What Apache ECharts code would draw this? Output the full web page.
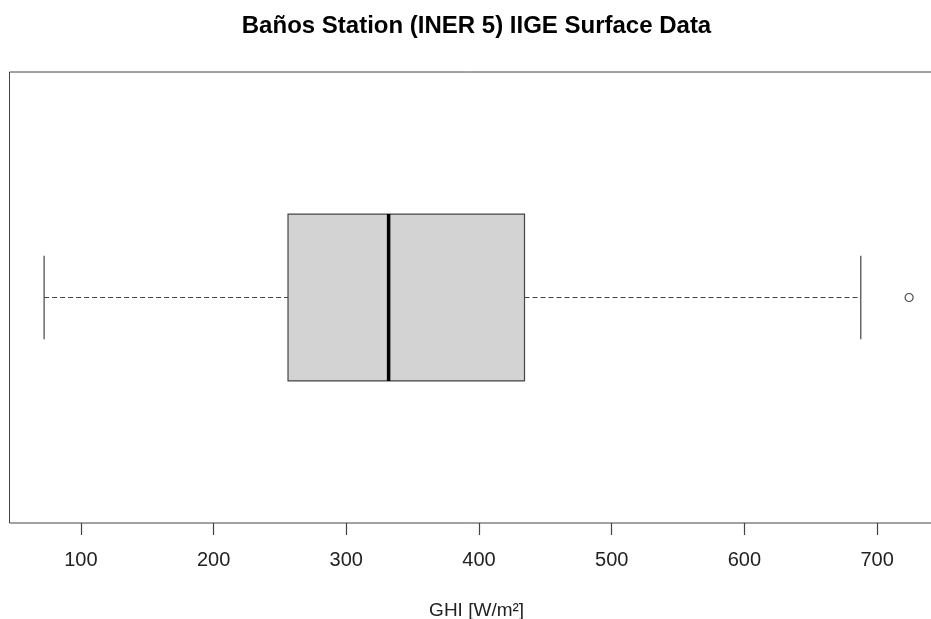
<!DOCTYPE html>
<html>
<head>
<meta charset="utf-8">
<title>Baños Station (INER 5) IIGE Surface Data</title>
<script src="https://cdn.jsdelivr.net/npm/echarts@6/dist/echarts.min.js"></script>
<style>
  html, body { margin: 0; padding: 0; background: #ffffff; }
  #chart { width: 931px; height: 619px; }
</style>
</head>
<body>
<div id="chart"></div>
<script>
// Five-number summary of GHI [W/m²]: lower whisker, Q1, median, Q3, upper whisker
const boxStats = [72.3, 256.1, 331.9, 434.3, 687.7];
// Points beyond the upper whisker
const outliers = [724.1];
// Labelled ticks along the GHI axis
const tickValues = [100, 200, 300, 400, 500, 600, 700];

const chartTitle = 'Baños Station (INER 5) IIGE Surface Data';
const axisTitle = 'GHI [W/m²]';

// Axis range: data range padded by 4% on each side
const span = outliers[0] - boxStats[0];
const xMin = boxStats[0] - span * 0.04;
const xMax = outliers[0] + span * 0.04;

const yCenter = 0.5;
const boxHalf = 0.185;
const capHalf = boxHalf / 2;
const lineColor = '#444444';

const chart = echarts.init(document.getElementById('chart'), null, { renderer: 'canvas' });

function renderBox(params, api) {
  const lo = api.value(0), q1 = api.value(1), med = api.value(2), q3 = api.value(3), hi = api.value(4);
  const p = (x, y) => api.coord([x, y]);
  const c = p(lo, yCenter)[1];
  const top = p(q1, yCenter + boxHalf)[1];
  const bot = p(q1, yCenter - boxHalf)[1];
  const capTop = p(lo, yCenter + capHalf)[1];
  const capBot = p(lo, yCenter - capHalf)[1];
  const xLo = p(lo, yCenter)[0], xQ1 = p(q1, yCenter)[0], xMed = p(med, yCenter)[0];
  const xQ3 = p(q3, yCenter)[0], xHi = p(hi, yCenter)[0];
  const dashed = { stroke: lineColor, lineWidth: 1, lineDash: [5, 3] };
  const solid = { stroke: lineColor, lineWidth: 1.2 };
  return {
    type: 'group',
    children: [
      { type: 'line', shape: { x1: xLo, y1: c, x2: xQ1, y2: c }, style: dashed },
      { type: 'line', shape: { x1: xQ3, y1: c, x2: xHi, y2: c }, style: dashed },
      { type: 'line', shape: { x1: xLo, y1: capTop, x2: xLo, y2: capBot }, style: solid },
      { type: 'line', shape: { x1: xHi, y1: capTop, x2: xHi, y2: capBot }, style: solid },
      { type: 'rect', shape: { x: xQ1, y: top, width: xQ3 - xQ1, height: bot - top },
        style: { fill: '#d3d3d3', stroke: lineColor, lineWidth: 1.2 } },
      { type: 'line', shape: { x1: xMed, y1: top, x2: xMed, y2: bot },
        style: { stroke: '#000000', lineWidth: 3.5 } }
    ]
  };
}

const option = {
  backgroundColor: '#ffffff',
  animation: false,
  textStyle: { fontFamily: 'Liberation Sans, Arial, sans-serif' },
  graphic: [
    {
      type: 'text', x: 476.5, y: 26.5,
      style: {
        text: chartTitle, x: 0, y: 0, align: 'center', verticalAlign: 'middle',
        font: 'bold 24px "Liberation Sans", Arial, sans-serif', fill: '#000000'
      }
    }
  ],
  grid: {
    left: 9.5, top: 72, width: 934.2, height: 451,
    outerBoundsMode: 'none', containLabel: false,
    show: true, borderColor: lineColor, borderWidth: 1, backgroundColor: 'transparent'
  },
  xAxis: {
    type: 'value', min: xMin, max: xMax,
    name: axisTitle, nameLocation: 'middle', nameGap: 78,
    nameTextStyle: { fontSize: 19, color: '#222222', fontFamily: 'Liberation Sans, Arial, sans-serif' },
    axisLine: { show: false },
    splitLine: { show: false },
    axisTick: { show: true, length: 12, customValues: tickValues, lineStyle: { color: lineColor, width: 1.2 } },
    axisLabel: { customValues: tickValues, fontSize: 20, color: '#222222', margin: 27,
      fontFamily: 'Liberation Sans, Arial, sans-serif' }
  },
  yAxis: {
    type: 'value', min: 0, max: 1, show: false, splitLine: { show: false }
  },
  series: [
    {
      type: 'custom', renderItem: renderBox,
      encode: { x: [0, 1, 2, 3, 4] },
      data: [boxStats], silent: true
    },
    {
      type: 'scatter', symbol: 'circle', symbolSize: 8,
      itemStyle: { color: '#ffffff', borderColor: '#222222', borderWidth: 1.2 },
      data: outliers.map(v => [v, yCenter]), silent: true
    }
  ]
};

chart.setOption(option);
</script>
</body>
</html>
